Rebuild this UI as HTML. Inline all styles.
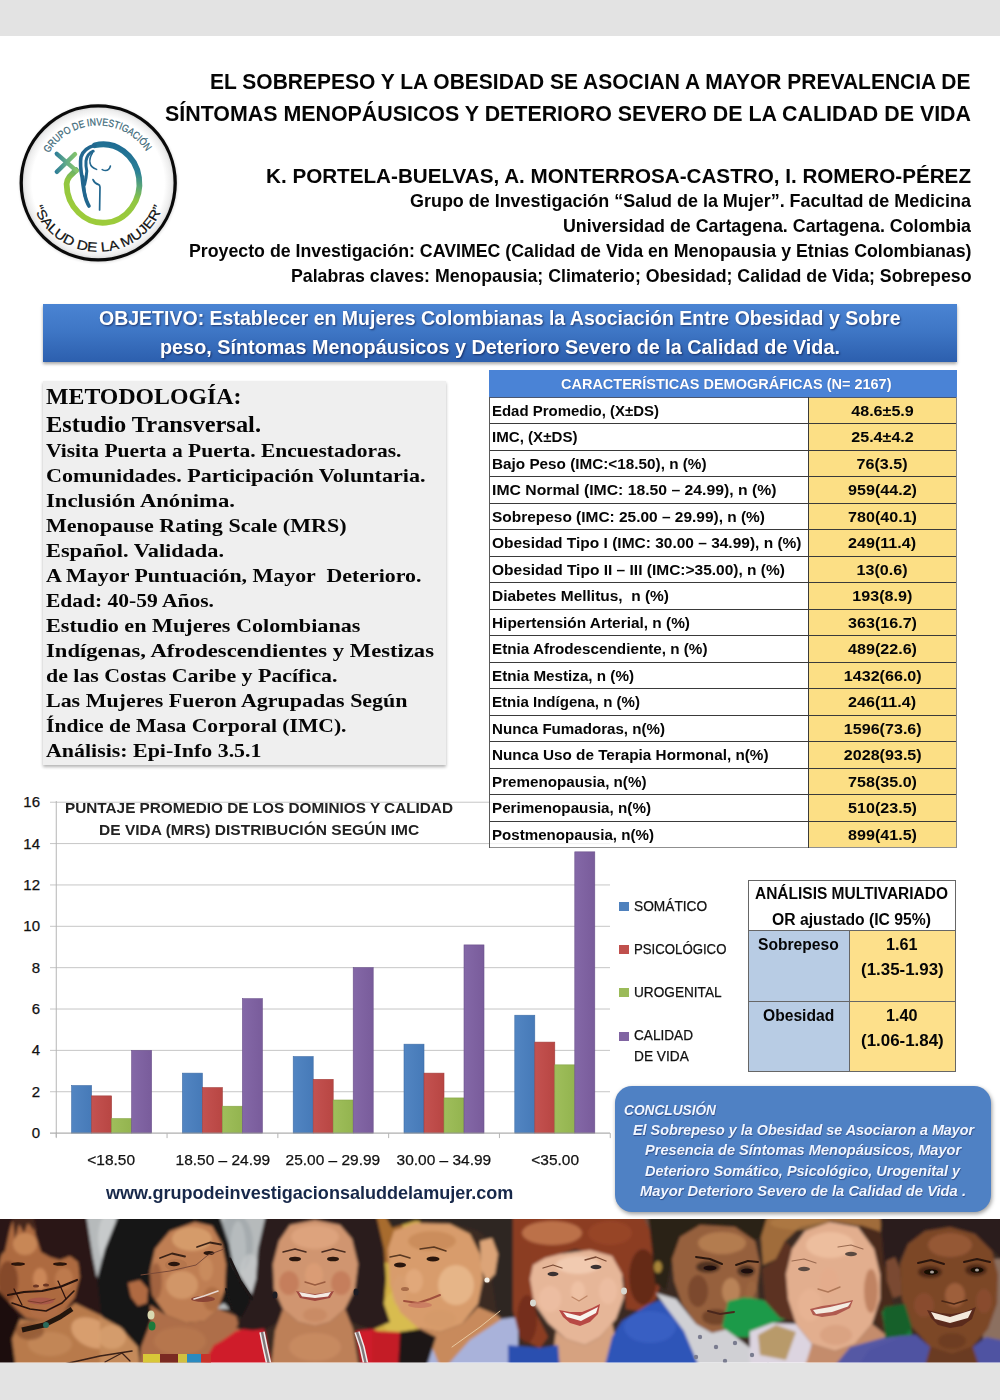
<!DOCTYPE html>
<html lang="es"><head><meta charset="utf-8"><title>Poster</title>
<style>
html,body{margin:0;padding:0;}
body{width:1000px;height:1400px;position:relative;overflow:hidden;background:#e3e3e3;font-family:"Liberation Sans",sans-serif;}
.abs{position:absolute;}
.t{position:absolute;white-space:pre;margin:0;padding:0;}
#paper{position:absolute;left:0;top:36px;width:1000px;height:1327px;background:#fff;}
</style></head><body>
<div id="paper"></div>

<div class="abs" style="left:42.5px;top:303.5px;width:914.5px;height:58px;background:linear-gradient(#4a84d3,#3f77c6 45%,#2c5fae);box-shadow:0 2px 3px rgba(0,0,0,.35);"></div>
<div class="abs" style="left:42.5px;top:381px;width:403.5px;height:384px;background:#efefef;box-shadow:0 2px 3px rgba(0,0,0,.3);"></div>
<svg class="abs" style="left:10px;top:95px" width="180" height="180" viewBox="10 95 180 180">
<defs>
<radialGradient id="lgbg" cx="98.2" cy="182.9" r="77" gradientUnits="userSpaceOnUse">
<stop offset="0" stop-color="#fff"/><stop offset="0.86" stop-color="#fff"/><stop offset="0.95" stop-color="#ededed"/><stop offset="1" stop-color="#cfcfcf"/>
</radialGradient>
<linearGradient id="lgring" x1="114" y1="141" x2="92" y2="212" gradientUnits="userSpaceOnUse">
<stop offset="0" stop-color="#1d6a93"/><stop offset="0.3" stop-color="#2b8096"/><stop offset="0.5" stop-color="#5faa74"/><stop offset="0.68" stop-color="#90c642"/><stop offset="1" stop-color="#9ccb3b"/>
</linearGradient>
<linearGradient id="lgx" x1="55" y1="0" x2="78" y2="0" gradientUnits="userSpaceOnUse">
<stop offset="0" stop-color="#2a7a98"/><stop offset="0.45" stop-color="#5fa98a"/><stop offset="1" stop-color="#8bc966"/>
</linearGradient>
<path id="arcTop" d="M 48.9 153.3 A 57.5 57.5 0 0 1 146.7 152.1" fill="none"/>
<path id="arcBot" d="M 33.8 207.6 A 69 69 0 0 0 163 206.5" fill="none"/>
<filter id="lgblur" x="-10%" y="-10%" width="120%" height="120%"><feGaussianBlur stdDeviation="1.6"/></filter>
</defs>
<circle cx="98.6" cy="183.6" r="78.6" fill="#000" opacity="0.16" filter="url(#lgblur)"/>
<circle cx="98.2" cy="182.9" r="77" fill="url(#lgbg)" stroke="#0a0a0a" stroke-width="3.3"/>
<!-- female symbol ring -->
<path d="M 76 170.2 L 69.6 176.5 Q 66.8 180 66.6 184 A 36.4 39.2 0 1 0 95 145.3" fill="none" stroke="url(#lgring)" stroke-width="5.8" stroke-linecap="round" stroke-linejoin="round"/>
<!-- cross -->
<path d="M 56.8 153.8 L 76.6 170.8" stroke="url(#lgx)" stroke-width="4.4" stroke-linecap="round" fill="none"/>
<path d="M 75 154.2 L 56.8 171.8" stroke="url(#lgx)" stroke-width="4.4" stroke-linecap="round" fill="none"/>
<!-- woman silhouette -->
<g fill="none" stroke="#22678f" stroke-linecap="round" stroke-linejoin="round">
<path d="M 95 145.3 Q 84 148 81 157 Q 79.6 165 82.2 178 Q 83.6 192 86.2 200 Q 88 204.5 89 206" stroke-width="3.6"/>
<path d="M 89 206 Q 86.5 201 85.2 193 Q 84 184 83.6 176" stroke-width="1.6"/>
<path d="M 93.2 151.2 Q 87.2 153.6 86 161 Q 85.6 166 86.8 171 Q 86.4 178 84.6 184.5" stroke-width="3"/>
<path d="M 84.6 184.5 Q 83.6 190 84.2 196" stroke-width="1.4"/>
<path d="M 92.4 153 Q 89.2 158 90 163 Q 91 167.6 96.6 169.4" stroke-width="1.5"/>
<path d="M 102.2 169.6 Q 106 171.6 108.6 169.4 Q 110 168 110.4 166" stroke-width="1.6"/>
<path d="M 93 179.6 Q 94.6 183.4 98.6 184.6 Q 99.8 185 100 187 L 99.6 210" stroke-width="1.7"/>
</g>
<text font-family="'Liberation Sans',sans-serif" font-size="10.4" fill="#3b6878" stroke="#3b6878" stroke-width="0.25"><textPath href="#arcTop" textLength="116" lengthAdjust="spacingAndGlyphs">GRUPO DE INVESTIGACIÓN</textPath></text>
<text font-family="'Liberation Sans',sans-serif" font-size="13.2" fill="#111" stroke="#111" stroke-width="0.2"><textPath href="#arcBot" textLength="166" lengthAdjust="spacingAndGlyphs">“SALUD DE LA MUJER”</textPath></text>
</svg>

<svg class="abs" style="left:0;top:780px" width="640" height="380" viewBox="0 780 640 380">
<defs>
<linearGradient id="gb" x1="0" x2="1" y1="0" y2="0"><stop offset="0" stop-color="#5285c2"/><stop offset="1" stop-color="#467ab8"/></linearGradient>
<linearGradient id="gr" x1="0" x2="1" y1="0" y2="0"><stop offset="0" stop-color="#c45250"/><stop offset="1" stop-color="#b84643"/></linearGradient>
<linearGradient id="gg" x1="0" x2="1" y1="0" y2="0"><stop offset="0" stop-color="#9fbe5b"/><stop offset="1" stop-color="#93b44f"/></linearGradient>
<linearGradient id="gp" x1="0" x2="1" y1="0" y2="0"><stop offset="0" stop-color="#8468a7"/><stop offset="1" stop-color="#795c9b"/></linearGradient>
</defs>
<line x1="50" x2="610" y1="1091.74" y2="1091.74" stroke="#c6c6c6" stroke-width="1"/>
<line x1="50" x2="610" y1="1050.38" y2="1050.38" stroke="#c6c6c6" stroke-width="1"/>
<line x1="50" x2="610" y1="1009.02" y2="1009.02" stroke="#c6c6c6" stroke-width="1"/>
<line x1="50" x2="610" y1="967.66" y2="967.66" stroke="#c6c6c6" stroke-width="1"/>
<line x1="50" x2="610" y1="926.30" y2="926.30" stroke="#c6c6c6" stroke-width="1"/>
<line x1="50" x2="610" y1="884.94" y2="884.94" stroke="#c6c6c6" stroke-width="1"/>
<line x1="50" x2="610" y1="843.58" y2="843.58" stroke="#c6c6c6" stroke-width="1"/>
<line x1="50" x2="610" y1="802.22" y2="802.22" stroke="#c6c6c6" stroke-width="1"/>
<line x1="56.25" x2="56.25" y1="801" y2="1137" stroke="#b5b5b5" stroke-width="1"/>
<rect x="71.60" y="1085.54" width="20" height="47.56" fill="url(#gb)" stroke="#3f6da6" stroke-width="0.6"/>
<rect x="91.60" y="1095.88" width="20" height="37.22" fill="url(#gr)" stroke="#a33f3c" stroke-width="0.6"/>
<rect x="111.60" y="1118.62" width="20" height="14.48" fill="url(#gg)" stroke="#84a445" stroke-width="0.6"/>
<rect x="131.60" y="1050.38" width="20" height="82.72" fill="url(#gp)" stroke="#6a508a" stroke-width="0.6"/>
<rect x="182.40" y="1073.13" width="20" height="59.97" fill="url(#gb)" stroke="#3f6da6" stroke-width="0.6"/>
<rect x="202.40" y="1087.60" width="20" height="45.50" fill="url(#gr)" stroke="#a33f3c" stroke-width="0.6"/>
<rect x="222.40" y="1106.22" width="20" height="26.88" fill="url(#gg)" stroke="#84a445" stroke-width="0.6"/>
<rect x="242.40" y="998.68" width="20" height="134.42" fill="url(#gp)" stroke="#6a508a" stroke-width="0.6"/>
<rect x="293.20" y="1056.58" width="20" height="76.52" fill="url(#gb)" stroke="#3f6da6" stroke-width="0.6"/>
<rect x="313.20" y="1079.33" width="20" height="53.77" fill="url(#gr)" stroke="#a33f3c" stroke-width="0.6"/>
<rect x="333.20" y="1100.01" width="20" height="33.09" fill="url(#gg)" stroke="#84a445" stroke-width="0.6"/>
<rect x="353.20" y="967.66" width="20" height="165.44" fill="url(#gp)" stroke="#6a508a" stroke-width="0.6"/>
<rect x="404.00" y="1044.18" width="20" height="88.92" fill="url(#gb)" stroke="#3f6da6" stroke-width="0.6"/>
<rect x="424.00" y="1073.13" width="20" height="59.97" fill="url(#gr)" stroke="#a33f3c" stroke-width="0.6"/>
<rect x="444.00" y="1097.94" width="20" height="35.16" fill="url(#gg)" stroke="#84a445" stroke-width="0.6"/>
<rect x="464.00" y="944.91" width="20" height="188.19" fill="url(#gp)" stroke="#6a508a" stroke-width="0.6"/>
<rect x="514.80" y="1015.22" width="20" height="117.88" fill="url(#gb)" stroke="#3f6da6" stroke-width="0.6"/>
<rect x="534.80" y="1042.11" width="20" height="90.99" fill="url(#gr)" stroke="#a33f3c" stroke-width="0.6"/>
<rect x="554.80" y="1064.86" width="20" height="68.24" fill="url(#gg)" stroke="#84a445" stroke-width="0.6"/>
<rect x="574.80" y="851.85" width="20" height="281.25" fill="url(#gp)" stroke="#6a508a" stroke-width="0.6"/>
<line x1="50" x2="610" y1="1133.10" y2="1133.10" stroke="#9a9a9a" stroke-width="1"/>
<line x1="56.25" x2="56.25" y1="1133.10" y2="1138.10" stroke="#b5b5b5" stroke-width="1"/>
<line x1="167.05" x2="167.05" y1="1133.10" y2="1138.10" stroke="#b5b5b5" stroke-width="1"/>
<line x1="277.85" x2="277.85" y1="1133.10" y2="1138.10" stroke="#b5b5b5" stroke-width="1"/>
<line x1="388.65" x2="388.65" y1="1133.10" y2="1138.10" stroke="#b5b5b5" stroke-width="1"/>
<line x1="499.45" x2="499.45" y1="1133.10" y2="1138.10" stroke="#b5b5b5" stroke-width="1"/>
<line x1="610.25" x2="610.25" y1="1133.10" y2="1138.10" stroke="#b5b5b5" stroke-width="1"/>
</svg>
<div class="abs" style="left:489px;top:370px;width:468px;height:27px;background:#4a83d6;"></div>
<div class="abs" style="left:489px;top:397px;width:319px;height:451px;background:rgba(255,255,255,.75);"></div>
<div class="abs" style="left:808px;top:397px;width:149px;height:451px;background:#fcdf85;"></div>
<div class="abs" style="left:489px;top:396.50px;width:468px;height:1px;background:#4a5670;"></div>
<div class="abs" style="left:489px;top:423.00px;width:468px;height:1px;background:#3a3a3a;"></div>
<div class="abs" style="left:489px;top:449.50px;width:468px;height:1px;background:#3a3a3a;"></div>
<div class="abs" style="left:489px;top:476.00px;width:468px;height:1px;background:#3a3a3a;"></div>
<div class="abs" style="left:489px;top:502.50px;width:468px;height:1px;background:#3a3a3a;"></div>
<div class="abs" style="left:489px;top:529.00px;width:468px;height:1px;background:#3a3a3a;"></div>
<div class="abs" style="left:489px;top:555.50px;width:468px;height:1px;background:#3a3a3a;"></div>
<div class="abs" style="left:489px;top:582.00px;width:468px;height:1px;background:#3a3a3a;"></div>
<div class="abs" style="left:489px;top:608.50px;width:468px;height:1px;background:#3a3a3a;"></div>
<div class="abs" style="left:489px;top:635.00px;width:468px;height:1px;background:#3a3a3a;"></div>
<div class="abs" style="left:489px;top:661.50px;width:468px;height:1px;background:#3a3a3a;"></div>
<div class="abs" style="left:489px;top:688.00px;width:468px;height:1px;background:#3a3a3a;"></div>
<div class="abs" style="left:489px;top:714.50px;width:468px;height:1px;background:#3a3a3a;"></div>
<div class="abs" style="left:489px;top:741.00px;width:468px;height:1px;background:#3a3a3a;"></div>
<div class="abs" style="left:489px;top:767.50px;width:468px;height:1px;background:#3a3a3a;"></div>
<div class="abs" style="left:489px;top:794.00px;width:468px;height:1px;background:#3a3a3a;"></div>
<div class="abs" style="left:489px;top:820.50px;width:468px;height:1px;background:#3a3a3a;"></div>
<div class="abs" style="left:489px;top:847.00px;width:468px;height:1px;background:#8f8f8f;"></div>
<div class="abs" style="left:488.5px;top:397px;width:1px;height:451px;background:#5a5a5a;"></div>
<div class="abs" style="left:807.5px;top:397px;width:1px;height:451px;background:#3a3a3a;"></div>
<div class="abs" style="left:956.0px;top:397px;width:1px;height:451px;background:#8a8a8a;"></div>
<div class="abs" style="left:619.2px;top:902.0px;width:10px;height:9px;background:#4f81bd;"></div>
<div class="abs" style="left:619.2px;top:945.1px;width:10px;height:9px;background:#c0504d;"></div>
<div class="abs" style="left:619.2px;top:988.3px;width:10px;height:9px;background:#9bbb59;"></div>
<div class="abs" style="left:619.2px;top:1031.5px;width:10px;height:9px;background:#8064a2;"></div>
<div class="abs" style="left:748px;top:880px;width:207.5px;height:191.25px;background:#fff;"></div>
<div class="abs" style="left:748px;top:930.75px;width:101.5px;height:140.5px;background:#b8cce4;"></div>
<div class="abs" style="left:849.5px;top:930.75px;width:106px;height:140.5px;background:#fde08b;"></div>
<div class="abs" style="left:747.5px;top:879.50px;width:208.5px;height:1px;background:#666;"></div>
<div class="abs" style="left:747.5px;top:930.25px;width:208.5px;height:1px;background:#666;"></div>
<div class="abs" style="left:747.5px;top:1000.75px;width:208.5px;height:1px;background:#666;"></div>
<div class="abs" style="left:747.5px;top:1070.75px;width:208.5px;height:1px;background:#666;"></div>
<div class="abs" style="left:747.50px;top:880.00px;width:1px;height:191.25px;background:#666;"></div>
<div class="abs" style="left:955.00px;top:880.00px;width:1px;height:191.25px;background:#666;"></div>
<div class="abs" style="left:849.00px;top:930.75px;width:1px;height:140.50px;background:#666;"></div>
<div class="abs" style="left:615px;top:1086px;width:376px;height:126px;border-radius:17px;background:#4f81c4;box-shadow:1px 2px 4px rgba(0,0,0,.4);"></div>
<div class="t" style="left:210.00px;top:68.68px;font:normal bold 21.2px/25.44px 'Liberation Sans',sans-serif;color:#050505;transform:scaleX(0.9913);transform-origin:left center;">EL SOBREPESO Y LA OBESIDAD SE ASOCIAN A MAYOR PREVALENCIA DE</div>
<div class="t" style="left:165.00px;top:100.68px;font:normal bold 21.2px/25.44px 'Liberation Sans',sans-serif;color:#050505;transform:scaleX(1.0093);transform-origin:left center;">SÍNTOMAS MENOPÁUSICOS Y DETERIORO SEVERO DE LA CALIDAD DE VIDA</div>
<div class="t" style="left:266.00px;top:162.62px;font:normal bold 21px/25.2px 'Liberation Sans',sans-serif;color:#050505;transform:scaleX(0.9831);transform-origin:left center;">K. PORTELA-BUELVAS, A. MONTERROSA-CASTRO, I. ROMERO-PÉREZ</div>
<div class="t" style="left:410.00px;top:190.56px;font:normal bold 17.9px/21.48px 'Liberation Sans',sans-serif;color:#050505;transform:scaleX(1.0023);transform-origin:left center;">Grupo de Investigación “Salud de la Mujer”. Facultad de Medicina</div>
<div class="t" style="left:563.00px;top:215.56px;font:normal bold 17.9px/21.48px 'Liberation Sans',sans-serif;color:#050505;transform:scaleX(0.9961);transform-origin:left center;">Universidad de Cartagena. Cartagena. Colombia</div>
<div class="t" style="left:188.50px;top:240.56px;font:normal bold 17.9px/21.48px 'Liberation Sans',sans-serif;color:#050505;transform:scaleX(0.9922);transform-origin:left center;">Proyecto de Investigación: CAVIMEC (Calidad de Vida en Menopausia y Etnias Colombianas)</div>
<div class="t" style="left:290.50px;top:265.56px;font:normal bold 17.9px/21.48px 'Liberation Sans',sans-serif;color:#050505;transform:scaleX(0.9910);transform-origin:left center;">Palabras claves: Menopausia; Climaterio; Obesidad; Calidad de Vida; Sobrepeso</div>
<div class="t" style="left:99.00px;top:306.94px;font:normal bold 19.5px/23.4px 'Liberation Sans',sans-serif;color:#fff;transform:scaleX(1.0004);transform-origin:left center;text-shadow:1px 1px 2px rgba(0,0,40,.55);">OBJETIVO: Establecer en Mujeres Colombianas la Asociación Entre Obesidad y Sobre</div>
<div class="t" style="left:159.60px;top:335.54px;font:normal bold 19.5px/23.4px 'Liberation Sans',sans-serif;color:#fff;transform:scaleX(1.0158);transform-origin:left center;text-shadow:1px 1px 2px rgba(0,0,40,.55);">peso, Síntomas Menopáusicos y Deterioro Severo de la Calidad de Vida.</div>
<div class="t" style="left:45.50px;top:383.15px;font:normal bold 23.2px/27.84px 'Liberation Serif',serif;color:#050505;transform:scaleX(1.0276);transform-origin:left center;">METODOLOGÍA:</div>
<div class="t" style="left:45.50px;top:410.65px;font:normal bold 23.2px/27.84px 'Liberation Serif',serif;color:#050505;transform:scaleX(1.0539);transform-origin:left center;">Estudio Transversal.</div>
<div class="t" style="left:45.50px;top:439.02px;font:normal bold 19.5px/23.4px 'Liberation Serif',serif;color:#050505;transform:scaleX(1.1038);transform-origin:left center;">Visita Puerta a Puerta. Encuestadoras.</div>
<div class="t" style="left:45.50px;top:464.02px;font:normal bold 19.5px/23.4px 'Liberation Serif',serif;color:#050505;transform:scaleX(1.1335);transform-origin:left center;">Comunidades. Participación Voluntaria.</div>
<div class="t" style="left:45.50px;top:489.02px;font:normal bold 19.5px/23.4px 'Liberation Serif',serif;color:#050505;transform:scaleX(1.1626);transform-origin:left center;">Inclusión Anónima.</div>
<div class="t" style="left:45.50px;top:514.02px;font:normal bold 19.5px/23.4px 'Liberation Serif',serif;color:#050505;transform:scaleX(1.1299);transform-origin:left center;">Menopause Rating Scale (MRS)</div>
<div class="t" style="left:45.50px;top:539.02px;font:normal bold 19.5px/23.4px 'Liberation Serif',serif;color:#050505;transform:scaleX(1.1443);transform-origin:left center;">Español. Validada.</div>
<div class="t" style="left:45.50px;top:564.02px;font:normal bold 19.5px/23.4px 'Liberation Serif',serif;color:#050505;transform:scaleX(1.1237);transform-origin:left center;">A Mayor Puntuación, Mayor  Deterioro.</div>
<div class="t" style="left:45.50px;top:589.02px;font:normal bold 19.5px/23.4px 'Liberation Serif',serif;color:#050505;transform:scaleX(1.1034);transform-origin:left center;">Edad: 40-59 Años.</div>
<div class="t" style="left:45.50px;top:614.02px;font:normal bold 19.5px/23.4px 'Liberation Serif',serif;color:#050505;transform:scaleX(1.1376);transform-origin:left center;">Estudio en Mujeres Colombianas</div>
<div class="t" style="left:45.50px;top:639.02px;font:normal bold 19.5px/23.4px 'Liberation Serif',serif;color:#050505;transform:scaleX(1.1603);transform-origin:left center;">Indígenas, Afrodescendientes y Mestizas</div>
<div class="t" style="left:45.50px;top:664.02px;font:normal bold 19.5px/23.4px 'Liberation Serif',serif;color:#050505;transform:scaleX(1.1213);transform-origin:left center;">de las Costas Caribe y Pacífica.</div>
<div class="t" style="left:45.50px;top:689.02px;font:normal bold 19.5px/23.4px 'Liberation Serif',serif;color:#050505;transform:scaleX(1.1259);transform-origin:left center;">Las Mujeres Fueron Agrupadas Según</div>
<div class="t" style="left:45.50px;top:714.02px;font:normal bold 19.5px/23.4px 'Liberation Serif',serif;color:#050505;transform:scaleX(1.1075);transform-origin:left center;">Índice de Masa Corporal (IMC).</div>
<div class="t" style="left:45.50px;top:739.02px;font:normal bold 19.5px/23.4px 'Liberation Serif',serif;color:#050505;transform:scaleX(1.1236);transform-origin:left center;">Análisis: Epi-Info 3.5.1</div>
<div class="t" style="left:560.50px;top:375.05px;font:normal bold 15px/18.0px 'Liberation Sans',sans-serif;color:#fff;transform:scaleX(0.9660);transform-origin:left center;text-shadow:0 0 1px rgba(0,0,60,.4);">CARACTERÍSTICAS DEMOGRÁFICAS (N= 2167)</div>
<div class="t" style="left:492.00px;top:401.71px;font:normal bold 15.2px/18.24px 'Liberation Sans',sans-serif;color:#050505;transform:scaleX(0.9852);transform-origin:left center;">Edad Promedio, (X±DS)</div>
<div class="t" style="left:852.99px;top:401.71px;font:normal bold 15.2px/18.24px 'Liberation Sans',sans-serif;color:#050505;transform:scaleX(1.0600);transform-origin:center center;">48.6±5.9</div>
<div class="t" style="left:492.00px;top:428.21px;font:normal bold 15.2px/18.24px 'Liberation Sans',sans-serif;color:#050505;transform:scaleX(0.9945);transform-origin:left center;">IMC, (X±DS)</div>
<div class="t" style="left:852.99px;top:428.21px;font:normal bold 15.2px/18.24px 'Liberation Sans',sans-serif;color:#050505;transform:scaleX(1.0600);transform-origin:center center;">25.4±4.2</div>
<div class="t" style="left:492.00px;top:454.71px;font:normal bold 15.2px/18.24px 'Liberation Sans',sans-serif;color:#050505;transform:scaleX(1.0066);transform-origin:left center;">Bajo Peso (IMC:&lt;18.50), n (%)</div>
<div class="t" style="left:858.44px;top:454.71px;font:normal bold 15.2px/18.24px 'Liberation Sans',sans-serif;color:#050505;transform:scaleX(1.0600);transform-origin:center center;">76(3.5)</div>
<div class="t" style="left:492.00px;top:481.21px;font:normal bold 15.2px/18.24px 'Liberation Sans',sans-serif;color:#050505;transform:scaleX(1.0372);transform-origin:left center;">IMC Normal (IMC: 18.50 – 24.99), n (%)</div>
<div class="t" style="left:849.99px;top:481.21px;font:normal bold 15.2px/18.24px 'Liberation Sans',sans-serif;color:#050505;transform:scaleX(1.0600);transform-origin:center center;">959(44.2)</div>
<div class="t" style="left:492.00px;top:507.71px;font:normal bold 15.2px/18.24px 'Liberation Sans',sans-serif;color:#050505;transform:scaleX(1.0171);transform-origin:left center;">Sobrepeso (IMC: 25.00 – 29.99), n (%)</div>
<div class="t" style="left:849.99px;top:507.71px;font:normal bold 15.2px/18.24px 'Liberation Sans',sans-serif;color:#050505;transform:scaleX(1.0600);transform-origin:center center;">780(40.1)</div>
<div class="t" style="left:492.00px;top:534.21px;font:normal bold 15.2px/18.24px 'Liberation Sans',sans-serif;color:#050505;transform:scaleX(1.0196);transform-origin:left center;">Obesidad Tipo I (IMC: 30.00 – 34.99), n (%)</div>
<div class="t" style="left:850.41px;top:534.21px;font:normal bold 15.2px/18.24px 'Liberation Sans',sans-serif;color:#050505;transform:scaleX(1.0600);transform-origin:center center;">249(11.4)</div>
<div class="t" style="left:492.00px;top:560.71px;font:normal bold 15.2px/18.24px 'Liberation Sans',sans-serif;color:#050505;transform:scaleX(1.0206);transform-origin:left center;">Obesidad Tipo II – III (IMC:&gt;35.00), n (%)</div>
<div class="t" style="left:858.44px;top:560.71px;font:normal bold 15.2px/18.24px 'Liberation Sans',sans-serif;color:#050505;transform:scaleX(1.0600);transform-origin:center center;">13(0.6)</div>
<div class="t" style="left:492.00px;top:587.21px;font:normal bold 15.2px/18.24px 'Liberation Sans',sans-serif;color:#050505;transform:scaleX(1.0182);transform-origin:left center;">Diabetes Mellitus,  n (%)</div>
<div class="t" style="left:854.21px;top:587.21px;font:normal bold 15.2px/18.24px 'Liberation Sans',sans-serif;color:#050505;transform:scaleX(1.0600);transform-origin:center center;">193(8.9)</div>
<div class="t" style="left:492.00px;top:613.71px;font:normal bold 15.2px/18.24px 'Liberation Sans',sans-serif;color:#050505;transform:scaleX(1.0142);transform-origin:left center;">Hipertensión Arterial, n (%)</div>
<div class="t" style="left:849.99px;top:613.71px;font:normal bold 15.2px/18.24px 'Liberation Sans',sans-serif;color:#050505;transform:scaleX(1.0600);transform-origin:center center;">363(16.7)</div>
<div class="t" style="left:492.00px;top:640.21px;font:normal bold 15.2px/18.24px 'Liberation Sans',sans-serif;color:#050505;transform:scaleX(1.0041);transform-origin:left center;">Etnia Afrodescendiente, n (%)</div>
<div class="t" style="left:849.99px;top:640.21px;font:normal bold 15.2px/18.24px 'Liberation Sans',sans-serif;color:#050505;transform:scaleX(1.0600);transform-origin:center center;">489(22.6)</div>
<div class="t" style="left:492.00px;top:666.71px;font:normal bold 15.2px/18.24px 'Liberation Sans',sans-serif;color:#050505;transform:scaleX(1.0015);transform-origin:left center;">Etnia Mestiza, n (%)</div>
<div class="t" style="left:845.77px;top:666.71px;font:normal bold 15.2px/18.24px 'Liberation Sans',sans-serif;color:#050505;transform:scaleX(1.0600);transform-origin:center center;">1432(66.0)</div>
<div class="t" style="left:492.00px;top:693.21px;font:normal bold 15.2px/18.24px 'Liberation Sans',sans-serif;color:#050505;transform:scaleX(0.9909);transform-origin:left center;">Etnia Indígena, n (%)</div>
<div class="t" style="left:850.41px;top:693.21px;font:normal bold 15.2px/18.24px 'Liberation Sans',sans-serif;color:#050505;transform:scaleX(1.0600);transform-origin:center center;">246(11.4)</div>
<div class="t" style="left:492.00px;top:719.71px;font:normal bold 15.2px/18.24px 'Liberation Sans',sans-serif;color:#050505;transform:scaleX(0.9951);transform-origin:left center;">Nunca Fumadoras, n(%)</div>
<div class="t" style="left:845.77px;top:719.71px;font:normal bold 15.2px/18.24px 'Liberation Sans',sans-serif;color:#050505;transform:scaleX(1.0600);transform-origin:center center;">1596(73.6)</div>
<div class="t" style="left:492.00px;top:746.21px;font:normal bold 15.2px/18.24px 'Liberation Sans',sans-serif;color:#050505;transform:scaleX(1.0061);transform-origin:left center;">Nunca Uso de Terapia Hormonal, n(%)</div>
<div class="t" style="left:845.77px;top:746.21px;font:normal bold 15.2px/18.24px 'Liberation Sans',sans-serif;color:#050505;transform:scaleX(1.0600);transform-origin:center center;">2028(93.5)</div>
<div class="t" style="left:492.00px;top:772.71px;font:normal bold 15.2px/18.24px 'Liberation Sans',sans-serif;color:#050505;transform:scaleX(1.0003);transform-origin:left center;">Premenopausia, n(%)</div>
<div class="t" style="left:849.99px;top:772.71px;font:normal bold 15.2px/18.24px 'Liberation Sans',sans-serif;color:#050505;transform:scaleX(1.0600);transform-origin:center center;">758(35.0)</div>
<div class="t" style="left:492.00px;top:799.21px;font:normal bold 15.2px/18.24px 'Liberation Sans',sans-serif;color:#050505;transform:scaleX(1.0021);transform-origin:left center;">Perimenopausia, n(%)</div>
<div class="t" style="left:849.99px;top:799.21px;font:normal bold 15.2px/18.24px 'Liberation Sans',sans-serif;color:#050505;transform:scaleX(1.0600);transform-origin:center center;">510(23.5)</div>
<div class="t" style="left:492.00px;top:825.71px;font:normal bold 15.2px/18.24px 'Liberation Sans',sans-serif;color:#050505;transform:scaleX(0.9946);transform-origin:left center;">Postmenopausia, n(%)</div>
<div class="t" style="left:849.99px;top:825.71px;font:normal bold 15.2px/18.24px 'Liberation Sans',sans-serif;color:#050505;transform:scaleX(1.0600);transform-origin:center center;">899(41.5)</div>
<div class="t" style="left:64.50px;top:799.27px;font:normal bold 15.3px/18.36px 'Liberation Sans',sans-serif;color:#222;transform:scaleX(1.0011);transform-origin:left center;">PUNTAJE PROMEDIO DE LOS DOMINIOS Y CALIDAD</div>
<div class="t" style="left:98.75px;top:821.02px;font:normal bold 15.3px/18.36px 'Liberation Sans',sans-serif;color:#222;transform:scaleX(1.0148);transform-origin:left center;">DE VIDA (MRS) DISTRIBUCIÓN SEGÚN IMC</div>
<div class="t" style="left:31.66px;top:1124.20px;font:normal normal 15px/18.0px 'Liberation Sans',sans-serif;color:#111;transform:scaleX(1.0000);transform-origin:right center;-webkit-text-stroke:0.25px #111;">0</div>
<div class="t" style="left:31.66px;top:1082.84px;font:normal normal 15px/18.0px 'Liberation Sans',sans-serif;color:#111;transform:scaleX(1.0000);transform-origin:right center;-webkit-text-stroke:0.25px #111;">2</div>
<div class="t" style="left:31.66px;top:1041.48px;font:normal normal 15px/18.0px 'Liberation Sans',sans-serif;color:#111;transform:scaleX(1.0000);transform-origin:right center;-webkit-text-stroke:0.25px #111;">4</div>
<div class="t" style="left:31.66px;top:1000.12px;font:normal normal 15px/18.0px 'Liberation Sans',sans-serif;color:#111;transform:scaleX(1.0000);transform-origin:right center;-webkit-text-stroke:0.25px #111;">6</div>
<div class="t" style="left:31.66px;top:958.76px;font:normal normal 15px/18.0px 'Liberation Sans',sans-serif;color:#111;transform:scaleX(1.0000);transform-origin:right center;-webkit-text-stroke:0.25px #111;">8</div>
<div class="t" style="left:23.31px;top:917.40px;font:normal normal 15px/18.0px 'Liberation Sans',sans-serif;color:#111;transform:scaleX(1.0000);transform-origin:right center;-webkit-text-stroke:0.25px #111;">10</div>
<div class="t" style="left:23.31px;top:876.04px;font:normal normal 15px/18.0px 'Liberation Sans',sans-serif;color:#111;transform:scaleX(1.0000);transform-origin:right center;-webkit-text-stroke:0.25px #111;">12</div>
<div class="t" style="left:23.31px;top:834.68px;font:normal normal 15px/18.0px 'Liberation Sans',sans-serif;color:#111;transform:scaleX(1.0000);transform-origin:right center;-webkit-text-stroke:0.25px #111;">14</div>
<div class="t" style="left:23.31px;top:793.32px;font:normal normal 15px/18.0px 'Liberation Sans',sans-serif;color:#111;transform:scaleX(1.0000);transform-origin:right center;-webkit-text-stroke:0.25px #111;">16</div>
<div class="t" style="left:88.45px;top:1150.80px;font:normal normal 15px/18.0px 'Liberation Sans',sans-serif;color:#111;transform:scaleX(1.0300);transform-origin:center center;-webkit-text-stroke:0.25px #111;">&lt;18.50</div>
<div class="t" style="left:176.52px;top:1150.80px;font:normal normal 15px/18.0px 'Liberation Sans',sans-serif;color:#111;transform:scaleX(1.0300);transform-origin:center center;-webkit-text-stroke:0.25px #111;">18.50 – 24.99</div>
<div class="t" style="left:287.32px;top:1150.80px;font:normal normal 15px/18.0px 'Liberation Sans',sans-serif;color:#111;transform:scaleX(1.0300);transform-origin:center center;-webkit-text-stroke:0.25px #111;">25.00 – 29.99</div>
<div class="t" style="left:398.12px;top:1150.80px;font:normal normal 15px/18.0px 'Liberation Sans',sans-serif;color:#111;transform:scaleX(1.0300);transform-origin:center center;-webkit-text-stroke:0.25px #111;">30.00 – 34.99</div>
<div class="t" style="left:531.65px;top:1150.80px;font:normal normal 15px/18.0px 'Liberation Sans',sans-serif;color:#111;transform:scaleX(1.0300);transform-origin:center center;-webkit-text-stroke:0.25px #111;">&lt;35.00</div>
<div class="t" style="left:634.00px;top:897.65px;font:normal normal 14px/16.8px 'Liberation Sans',sans-serif;color:#111;transform:scaleX(0.9803);transform-origin:left center;-webkit-text-stroke:0.25px #111;">SOMÁTICO</div>
<div class="t" style="left:634.00px;top:941.15px;font:normal normal 14px/16.8px 'Liberation Sans',sans-serif;color:#111;transform:scaleX(0.9426);transform-origin:left center;-webkit-text-stroke:0.25px #111;">PSICOLÓGICO</div>
<div class="t" style="left:634.00px;top:984.35px;font:normal normal 14px/16.8px 'Liberation Sans',sans-serif;color:#111;transform:scaleX(0.9735);transform-origin:left center;-webkit-text-stroke:0.25px #111;">UROGENITAL</div>
<div class="t" style="left:634.00px;top:1027.25px;font:normal normal 14px/16.8px 'Liberation Sans',sans-serif;color:#111;transform:scaleX(0.9722);transform-origin:left center;-webkit-text-stroke:0.25px #111;">CALIDAD</div>
<div class="t" style="left:634.00px;top:1047.55px;font:normal normal 14px/16.8px 'Liberation Sans',sans-serif;color:#111;transform:scaleX(0.9783);transform-origin:left center;-webkit-text-stroke:0.25px #111;">DE VIDA</div>
<div class="t" style="left:105.60px;top:1182.49px;font:normal bold 18.5px/22.2px 'Liberation Sans',sans-serif;color:#17284a;transform:scaleX(0.9753);transform-origin:left center;">www.grupodeinvestigacionsaluddelamujer.com</div>
<div class="t" style="left:755.00px;top:884.98px;font:normal bold 15.6px/18.72px 'Liberation Sans',sans-serif;color:#050505;transform:scaleX(0.9931);transform-origin:left center;">ANÁLISIS MULTIVARIADO</div>
<div class="t" style="left:772.00px;top:911.23px;font:normal bold 15.6px/18.72px 'Liberation Sans',sans-serif;color:#050505;transform:scaleX(1.0082);transform-origin:left center;">OR ajustado (IC 95%)</div>
<div class="t" style="left:758.00px;top:936.23px;font:normal bold 15.6px/18.72px 'Liberation Sans',sans-serif;color:#050505;transform:scaleX(1.0019);transform-origin:left center;">Sobrepeso</div>
<div class="t" style="left:886.00px;top:936.23px;font:normal bold 15.6px/18.72px 'Liberation Sans',sans-serif;color:#050505;transform:scaleX(1.0376);transform-origin:left center;">1.61</div>
<div class="t" style="left:861.00px;top:961.23px;font:normal bold 15.6px/18.72px 'Liberation Sans',sans-serif;color:#050505;transform:scaleX(1.0848);transform-origin:left center;">(1.35-1.93)</div>
<div class="t" style="left:762.50px;top:1006.98px;font:normal bold 15.6px/18.72px 'Liberation Sans',sans-serif;color:#050505;transform:scaleX(1.0026);transform-origin:left center;">Obesidad</div>
<div class="t" style="left:886.00px;top:1006.98px;font:normal bold 15.6px/18.72px 'Liberation Sans',sans-serif;color:#050505;transform:scaleX(1.0376);transform-origin:left center;">1.40</div>
<div class="t" style="left:861.00px;top:1031.98px;font:normal bold 15.6px/18.72px 'Liberation Sans',sans-serif;color:#050505;transform:scaleX(1.0848);transform-origin:left center;">(1.06-1.84)</div>
<div class="t" style="left:624.00px;top:1101.78px;font:italic bold 14.5px/17.4px 'Liberation Sans',sans-serif;color:#f1f6ff;transform:scaleX(0.9437);transform-origin:left center;text-shadow:0.5px 0.5px 1px rgba(0,0,50,.45);">CONCLUSIÓN</div>
<div class="t" style="left:632.80px;top:1121.78px;font:italic bold 14.5px/17.4px 'Liberation Sans',sans-serif;color:#f1f6ff;transform:scaleX(0.9908);transform-origin:left center;text-shadow:0.5px 0.5px 1px rgba(0,0,50,.45);">El Sobrepeso y la Obesidad se Asociaron a Mayor</div>
<div class="t" style="left:644.80px;top:1141.78px;font:italic bold 14.5px/17.4px 'Liberation Sans',sans-serif;color:#f1f6ff;transform:scaleX(1.0061);transform-origin:left center;text-shadow:0.5px 0.5px 1px rgba(0,0,50,.45);">Presencia de Síntomas Menopáusicos, Mayor</div>
<div class="t" style="left:644.80px;top:1162.58px;font:italic bold 14.5px/17.4px 'Liberation Sans',sans-serif;color:#f1f6ff;transform:scaleX(1.0005);transform-origin:left center;text-shadow:0.5px 0.5px 1px rgba(0,0,50,.45);">Deterioro Somático, Psicológico, Urogenital y</div>
<div class="t" style="left:640.00px;top:1182.58px;font:italic bold 14.5px/17.4px 'Liberation Sans',sans-serif;color:#f1f6ff;transform:scaleX(1.0182);transform-origin:left center;text-shadow:0.5px 0.5px 1px rgba(0,0,50,.45);">Mayor Deterioro Severo de la Calidad de Vida .</div>
<svg class="abs" style="left:0;top:1219px" width="1000" height="143.5" viewBox="0 0 1000 143.5">
<defs>
<filter id="pb2" x="-2%" y="-10%" width="104%" height="120%"><feGaussianBlur stdDeviation="1.7"/></filter>
<filter id="pb1" x="-2%" y="-10%" width="104%" height="120%"><feGaussianBlur stdDeviation="0.55"/></filter>
<clipPath id="pclip"><rect x="0" y="0" width="1000" height="143.5"/></clipPath>
</defs>
<g clip-path="url(#pclip)">
<g filter="url(#pb2)">
<rect x="-5" y="-5" width="1010" height="153" fill="#3a2a24"/>
<rect x="80" y="-5" width="215" height="95" fill="#b6babb"/>
<ellipse cx="235" cy="25" rx="18" ry="30" fill="#9ea5a8" opacity="0.7"/>
<ellipse cx="250" cy="55" rx="10" ry="20" fill="#c9cdcd" opacity="0.6"/>
<ellipse cx="108" cy="20" rx="10" ry="25" fill="#cfd1d2" opacity="0.7"/>
<ellipse cx="238" cy="30" rx="8" ry="28" fill="#c8cccc" opacity="0.5"/>
<polygon points="374,-5 420,-5 420,120 374,120" fill="#d2b044"/>
<ellipse cx="388" cy="18" rx="16" ry="26" fill="#a86c2e"/>
<ellipse cx="400" cy="95" rx="18" ry="25" fill="#d8bc50"/>
<rect x="628" y="-5" width="30" height="20" fill="#6a4a3a"/>
<rect x="983" y="40" width="22" height="85" fill="#8c7060"/>
<polygon points="-5,-5 86,-5 93,40 99,70 103,97 80,92 0,100 -5,100" fill="#2b1517"/>
<polygon points="0,40 4,28 9,12 14,-2 36,-2 42,26 50,33 60,36 70,33 78,40 80,58 75,78 63,94 46,103 26,99 8,82 -5,70" fill="#ad6a40"/>
<ellipse cx="25" cy="25" rx="12" ry="11" fill="#cc8c5c" opacity="0.85"/>
<ellipse cx="40" cy="60" rx="7" ry="11" fill="#d08c5e" opacity="0.85"/>
<ellipse cx="64" cy="60" rx="9" ry="11" fill="#c07c50" opacity="0.85"/>
<ellipse cx="8" cy="62" rx="10" ry="20" fill="#7e4428" opacity="0.85"/>
<ellipse cx="44" cy="92" rx="14" ry="7" fill="#b06e46" opacity="0.9"/>
<polygon points="34,-5 86,-5 85,36 78,43 70,37 60,41 50,38 41,33 35,14" fill="#2a1416"/>
<polygon points="12,-5 36,-5 34,12 28,4 24,14 19,5 15,20" fill="#2a1416" opacity="0.8"/>
<polygon points="-5,-5 13,-5 9,14 5,32 -5,42" fill="#2a1416"/>
<polygon points="78,40 85,20 93,40 99,70 103,97 86,92 74,82 80,58" fill="#2b1517"/>
<polygon points="18,100 46,103 63,94 75,84 102,97 135,120 135,150 12,150 10,120" fill="#b87a4c"/>
<ellipse cx="92" cy="114" rx="22" ry="14" fill="#dca272" opacity="0.9" transform="rotate(25 92 114)"/>
<ellipse cx="50" cy="125" rx="22" ry="12" fill="#c48a5a" opacity="0.8"/>
<polygon points="-5,68 8,82 20,100 12,120 16,150 -5,150" fill="#1e0e10"/>
<ellipse cx="30" cy="112" rx="14" ry="9" fill="#8a5230" opacity="0.7"/>
<polygon points="119,-5 219,-5 229,25 233,45 248,70 258,86 258,104 236,97 224,84 150,128 138,132 112,124 101,95 97,60 105,30" fill="#171414"/>
<polygon points="150,52 155,30 170,12 195,3 212,7 222,25 226,45 225,70 218,90 205,102 186,104 166,96 152,76" fill="#bf7e52"/>
<ellipse cx="192" cy="20" rx="20" ry="12" fill="#d8a070" opacity="0.85"/>
<ellipse cx="182" cy="66" rx="16" ry="14" fill="#d49a6c" opacity="0.85"/>
<ellipse cx="206" cy="50" rx="7" ry="12" fill="#cc8e60" opacity="0.8"/>
<ellipse cx="156" cy="62" rx="6" ry="18" fill="#96583a" opacity="0.7"/>
<ellipse cx="212" cy="80" rx="9" ry="12" fill="#a8683e" opacity="0.7"/>
<polygon points="128,64 140,61 148,70 147,84 138,87 131,78" fill="#b06a42"/>
<polygon points="150,86 166,96 186,104 205,102 218,90 236,97 240,112 216,126 210,150 140,150 141,128 151,102" fill="#ae6e48"/>
<ellipse cx="180" cy="122" rx="26" ry="14" fill="#b87850" opacity="0.8"/>
<polygon points="260,106 236,112 216,126 206,150 260,150" fill="#d4202c"/>
<polygon points="100,97 120,108 138,128 140,150 100,150" fill="#c48a5a"/>
<ellipse cx="112" cy="118" rx="14" ry="12" fill="#d8a070" opacity="0.8"/>
<polygon points="266,-5 376,-5 384,30 386,60 384,85 390,103 372,111 345,101 282,101 262,113 236,109 249,85 256,60 258,30" fill="#2a1a1c"/>
<polygon points="279,22 290,6 315,1 340,6 352,20 358,45 355,70 345,90 330,103 315,107 298,103 283,90 274,70 273,45" fill="#d09570"/>
<ellipse cx="315" cy="18" rx="24" ry="12" fill="#dea47e" opacity="0.9"/>
<ellipse cx="314" cy="56" rx="9" ry="12" fill="#da9c76" opacity="0.9"/>
<ellipse cx="289" cy="64" rx="10" ry="12" fill="#c27858" opacity="0.8"/>
<ellipse cx="341" cy="64" rx="10" ry="12" fill="#c27858" opacity="0.8"/>
<ellipse cx="315" cy="96" rx="12" ry="7" fill="#c88a64" opacity="0.9"/>
<polygon points="283,90 298,103 315,107 330,103 345,90 353,110 359,150 271,150 275,112" fill="#bd8058"/>
<ellipse cx="315" cy="128" rx="26" ry="14" fill="#c98c64" opacity="0.8"/>
<polygon points="200,150 214,126 240,113 264,110 272,150" fill="#cf1f2b"/>
<polygon points="356,112 372,110 396,118 420,122 420,150 362,150" fill="#cf1f2b"/>
<polygon points="384,-5 518,-5 518,101 497,96 492,62 495,25 478,12 450,4 415,2 392,9" fill="#2e2622"/>
<polygon points="388,30 394,12 415,4 450,5 470,15 480,35 483,60 478,85 462,105 440,113 418,109 400,93 390,66" fill="#d89c6c"/>
<ellipse cx="456" cy="66" rx="18" ry="20" fill="#e8b88c" opacity="0.9"/>
<ellipse cx="414" cy="62" rx="9" ry="12" fill="#e2aa7c" opacity="0.9"/>
<ellipse cx="432" cy="22" rx="24" ry="10" fill="#c88a58" opacity="0.8"/>
<ellipse cx="400" cy="72" rx="8" ry="16" fill="#d8a070" opacity="0.7"/>
<ellipse cx="440" cy="100" rx="16" ry="9" fill="#d49a6c" opacity="0.8"/>
<polygon points="480,22 492,19 498,35 495,55 487,63 481,50" fill="#dca478"/>
<polygon points="418,109 440,113 462,105 478,88 497,96 502,101 470,122 444,150 424,150 434,118" fill="#c88a5c"/>
<polygon points="444,150 470,121 502,100 518,98 518,150" fill="#a9b2da"/>
<polygon points="424,150 431,126 441,150" fill="#a9b2da"/>
<polygon points="399,113 420,110 436,118 426,150 396,150" fill="#1a1818"/>
<polygon points="372,112 400,113 398,150 372,150" fill="#c41a28"/>
<polygon points="513,-5 642,-5 656,25 663,55 656,80 640,92 626,90 624,60 612,38 575,30 545,40 532,58 534,90 548,118 540,129 520,119 513,92" fill="#8c3c24"/>
<ellipse cx="552" cy="14" rx="30" ry="12" fill="#c47a50" opacity="0.85"/>
<ellipse cx="610" cy="14" rx="22" ry="12" fill="#9a4628" opacity="0.8"/>
<ellipse cx="643" cy="58" rx="14" ry="28" fill="#5e2618" opacity="0.85"/>
<ellipse cx="527" cy="100" rx="10" ry="24" fill="#6e2c1c" opacity="0.8"/>
<ellipse cx="524" cy="50" rx="8" ry="26" fill="#8a3c24" opacity="0.7"/>
<polygon points="530,60 533,46 545,39 560,35 590,31 612,37 622,55 624,78 616,100 600,118 585,126 566,120 548,104 534,84" fill="#e6b698"/>
<ellipse cx="578" cy="46" rx="22" ry="9" fill="#f2ccb2" opacity="0.9"/>
<ellipse cx="550" cy="80" rx="11" ry="13" fill="#eebfa4" opacity="0.8"/>
<ellipse cx="608" cy="72" rx="9" ry="13" fill="#eebfa4" opacity="0.8"/>
<ellipse cx="578" cy="72" rx="7" ry="10" fill="#f0c4a8" opacity="0.8"/>
<polygon points="556,112 566,120 585,126 600,118 612,104 616,122 606,150 558,150 554,128" fill="#d6a280"/>
<polygon points="508,126 540,129 558,126 560,150 508,150" fill="#2c50b0"/>
<polygon points="604,150 612,118 622,102 648,86 660,81 676,96 690,120 704,150" fill="#2f55b8"/>
<ellipse cx="650" cy="108" rx="26" ry="16" fill="#3a62c8" opacity="0.7"/>
<polygon points="648,-5 770,-5 766,15 755,22 735,8 700,6 680,18 672,40 666,72 655,64 652,30" fill="#2a2018"/>
<polygon points="672,40 680,18 700,6 735,8 755,22 760,45 757,70 745,95 728,110 712,114 696,105 682,85 674,62" fill="#96603c"/>
<ellipse cx="722" cy="24" rx="24" ry="11" fill="#b88054" opacity="0.85"/>
<ellipse cx="731" cy="72" rx="9" ry="13" fill="#c08a5e" opacity="0.85"/>
<ellipse cx="698" cy="72" rx="10" ry="16" fill="#74442a" opacity="0.8"/>
<ellipse cx="708" cy="48" rx="12" ry="6" fill="#3e261a" opacity="0.8"/>
<ellipse cx="746" cy="52" rx="9" ry="6" fill="#3e261a" opacity="0.8"/>
<ellipse cx="716" cy="98" rx="14" ry="8" fill="#6a3e26" opacity="0.8"/>
<ellipse cx="752" cy="76" rx="6" ry="14" fill="#a06a44" opacity="0.6"/>
<polygon points="656,74 676,80 684,90 696,105 712,114 728,110 736,118 778,150 700,150 684,112 666,88" fill="#d0d0d4"/>
<polygon points="728,82 745,78 762,85 786,100 772,105 750,118 736,118 722,108" fill="#1f9a4a"/>
<ellipse cx="658" cy="48" rx="4" ry="6" fill="#c8a040" opacity="0.8"/>
<polygon points="750,112 772,104 796,105 812,125 806,150 750,150" fill="#dcd4e0"/>
<polygon points="758,116 776,106 796,113 786,141 760,136" fill="#b89a6a"/>
<polygon points="748,78 766,82 783,98 772,104 748,113" fill="#1f9a4a"/>
<polygon points="768,-5 882,-5 880,14 860,7 830,2 800,8 785,22 776,40 763,46 761,18" fill="#a06c3a"/>
<ellipse cx="800" cy="4" rx="30" ry="7" fill="#b07c46" opacity="0.7"/>
<polygon points="776,40 785,22 793,30 787,55 789,80 796,102 780,99 765,82 762,50" fill="#5c3020"/>
<polygon points="860,6 879,12 887,30 891,60 893,90 886,116 874,102 880,70 876,40" fill="#4a2a1c"/>
<polygon points="786,55 792,30 805,12 830,3 858,8 874,30 880,55 880,80 872,105 855,125 835,132 812,125 796,105 788,80" fill="#e2ae8e"/>
<ellipse cx="830" cy="26" rx="24" ry="13" fill="#eec0a0" opacity="0.9"/>
<ellipse cx="810" cy="86" rx="12" ry="16" fill="#e8b494" opacity="0.85"/>
<ellipse cx="829" cy="62" rx="9" ry="13" fill="#e4ac8c" opacity="0.85"/>
<ellipse cx="871" cy="72" rx="7" ry="22" fill="#b87858" opacity="0.8"/>
<ellipse cx="836" cy="116" rx="16" ry="10" fill="#d8a080" opacity="0.8"/>
<polygon points="812,125 835,132 855,125 872,105 886,116 882,150 804,150" fill="#c48c6c"/>
<polygon points="882,92 906,88 912,116 886,119" fill="#167a38"/>
<polygon points="832,150 850,128 886,118 916,116 922,150" fill="#5458a4"/>
<polygon points="880,-5 1005,-5 1005,42 990,30 975,15 950,8 925,12 908,25 900,40 896,62 884,46" fill="#2c1e1a"/>
<polygon points="886,42 895,38 900,50 902,76 893,79 887,62" fill="#7a4a30"/>
<polygon points="900,45 908,25 925,12 950,8 975,15 992,32 998,55 997,85 988,110 972,128 952,135 930,128 912,108 902,80" fill="#7c4628"/>
<ellipse cx="950" cy="26" rx="22" ry="12" fill="#9a5c38" opacity="0.85"/>
<ellipse cx="955" cy="76" rx="10" ry="12" fill="#a4643e" opacity="0.85"/>
<ellipse cx="924" cy="86" rx="10" ry="12" fill="#8c4e2e" opacity="0.8"/>
<ellipse cx="984" cy="82" rx="8" ry="12" fill="#8c4e2e" opacity="0.8"/>
<ellipse cx="930" cy="53" rx="12" ry="6" fill="#3e2012" opacity="0.8"/>
<ellipse cx="976" cy="51" rx="11" ry="6" fill="#3e2012" opacity="0.8"/>
<ellipse cx="952" cy="122" rx="14" ry="8" fill="#6a3a20" opacity="0.8"/>
<polygon points="884,88 905,85 912,108 905,116 885,119" fill="#14602c"/>
<polygon points="928,127 952,135 974,127 980,150 923,150" fill="#6a3a20"/>
<polygon points="856,150 870,130 900,118 916,116 930,128 924,150" fill="#5052a2"/>
<polygon points="973,128 986,118 1005,122 1005,150 980,150" fill="#5052a2"/>
</g>
<g filter="url(#pb1)">
<ellipse cx="18" cy="45" rx="7" ry="1.8" fill="#2a1208"/>
<ellipse cx="60" cy="45" rx="7" ry="1.8" fill="#2a1208"/>
<polyline points="8,76 24,73 42,72 60,68 77,61" fill="none" stroke="#28120c" stroke-width="2.2" stroke-linecap="round" stroke-linejoin="round"/>
<polyline points="12,84 30,90 46,92 62,84 74,72" fill="none" stroke="#28120c" stroke-width="1.6" stroke-linecap="round" stroke-linejoin="round"/>
<polyline points="14,70 22,86" fill="none" stroke="#28120c" stroke-width="1.2" stroke-linecap="round" stroke-linejoin="round"/>
<polyline points="58,62 66,80" fill="none" stroke="#28120c" stroke-width="1.2" stroke-linecap="round" stroke-linejoin="round"/>
<ellipse cx="41" cy="82" rx="13" ry="3.4" fill="#a85848"/>
<polyline points="28,82 41,84 55,80" fill="none" stroke="#7a3a2c" stroke-width="1" stroke-linecap="round" stroke-linejoin="round"/>
<polyline points="22,111 44,106 60,98 72,90" fill="none" stroke="#24140e" stroke-width="5" stroke-linecap="butt" stroke-linejoin="round"/>
<ellipse cx="46" cy="106" rx="3" ry="3" fill="#2a6a5a"/>
<polyline points="60,146 100,137 132,132" fill="none" stroke="#3a2018" stroke-width="1.6" stroke-linecap="round" stroke-linejoin="round"/>
<polyline points="105,143 122,134 130,142" fill="none" stroke="#3a2018" stroke-width="1.2" stroke-linecap="round" stroke-linejoin="round"/>
<ellipse cx="36" cy="67" rx="3" ry="1.6" fill="#6a3420"/>
<ellipse cx="46" cy="66" rx="3" ry="1.6" fill="#6a3420"/>
<ellipse cx="176" cy="46" rx="11" ry="6" fill="#a86a44" opacity="0.45"/>
<ellipse cx="174" cy="45" rx="6" ry="2.2" fill="#2a1810"/>
<ellipse cx="209" cy="34" rx="5.5" ry="2" fill="#2a1810"/>
<polyline points="160,39 172,34.5 185,37.5" fill="none" stroke="#3a2418" stroke-width="1.8" stroke-linecap="round" stroke-linejoin="round"/>
<polyline points="197,28 210,23.5 221,25.5" fill="none" stroke="#3a2418" stroke-width="1.8" stroke-linecap="round" stroke-linejoin="round"/>
<polyline points="141,56 170,52 196,46 208,36 224,30" fill="none" stroke="#7a4a38" stroke-width="1" stroke-linecap="round" stroke-linejoin="round"/>
<ellipse cx="203" cy="80" rx="12" ry="3" fill="#8a4434"/>
<polyline points="194,80 204,77 218,72" fill="none" stroke="#e8d8d0" stroke-width="1.6" stroke-linecap="round" stroke-linejoin="round"/>
<ellipse cx="151" cy="96" rx="3.5" ry="4.5" fill="#d8d8b0"/>
<ellipse cx="152" cy="107" rx="3.5" ry="4.5" fill="#1f7a3a"/>
<rect x="143" y="135" width="17" height="9" fill="#d8c838"/>
<rect x="160" y="135" width="18" height="9" fill="#7a2a20"/>
<rect x="178" y="135" width="9" height="9" fill="#d0c040"/>
<rect x="187" y="135" width="14" height="9" fill="#2a8ac0"/>
<rect x="201" y="135" width="10" height="9" fill="#c8302c"/>
<polyline points="230,40 240,62 252,80" fill="none" stroke="#1a1616" stroke-width="3" stroke-linecap="round" stroke-linejoin="round"/>
<polyline points="226,70 232,90" fill="none" stroke="#1a1616" stroke-width="2" stroke-linecap="round" stroke-linejoin="round"/>
<ellipse cx="295" cy="40" rx="6" ry="2.3" fill="#2a1810"/>
<ellipse cx="333" cy="40" rx="6" ry="2.3" fill="#2a1810"/>
<polyline points="283,33 295,30 306,33" fill="none" stroke="#4a2c20" stroke-width="1.4" stroke-linecap="round" stroke-linejoin="round"/>
<polyline points="322,33 333,30 345,33" fill="none" stroke="#4a2c20" stroke-width="1.4" stroke-linecap="round" stroke-linejoin="round"/>
<polygon points="296,72 306,74 315,75 324,74 334,72 330,79 315,82 300,79" fill="#a04a40"/>
<polygon points="299,73 315,76 331,73 328,77.5 315,79 302,77.5" fill="#f4ece4"/>
<polyline points="305,63 315,66 325,63" fill="none" stroke="#9a5c40" stroke-width="1.4" stroke-linecap="round" stroke-linejoin="round"/>
<ellipse cx="275" cy="76" rx="2.5" ry="3.5" fill="#1a1a24"/>
<ellipse cx="356" cy="73" rx="2.5" ry="3.5" fill="#1a1a24"/>
<polyline points="262,113 265,128 269,146" fill="none" stroke="#f0ecec" stroke-width="5.5" stroke-linecap="butt" stroke-linejoin="round"/>
<polyline points="262,113 265,128 269,146" fill="none" stroke="#2a1a1c" stroke-width="2.4" stroke-linecap="butt" stroke-linejoin="round" opacity="0.55"/>
<polyline points="357,113 362,128 366,146" fill="none" stroke="#f0ecec" stroke-width="5.5" stroke-linecap="butt" stroke-linejoin="round"/>
<polyline points="357,113 362,128 366,146" fill="none" stroke="#2a1a1c" stroke-width="2.4" stroke-linecap="butt" stroke-linejoin="round" opacity="0.55"/>
<ellipse cx="400" cy="46" rx="6" ry="2.4" fill="#2a1810"/>
<ellipse cx="433" cy="40" rx="6.5" ry="2.5" fill="#2a1810"/>
<polyline points="390,38 400,36 410,39" fill="none" stroke="#5a3820" stroke-width="1.4" stroke-linecap="round" stroke-linejoin="round"/>
<polyline points="420,30 434,28 446,32" fill="none" stroke="#5a3820" stroke-width="1.4" stroke-linecap="round" stroke-linejoin="round"/>
<polyline points="404,82 418,84 430,80 440,76" fill="none" stroke="#a0503c" stroke-width="2" stroke-linecap="round" stroke-linejoin="round"/>
<ellipse cx="420" cy="86" rx="12" ry="3" fill="#c87860" opacity="0.8"/>
<ellipse cx="405" cy="70" rx="4" ry="2" fill="#a86c48"/>
<ellipse cx="487" cy="61" rx="2.6" ry="2.6" fill="#f4f0e8"/>
<polyline points="452,128 480,108 500,92" fill="none" stroke="#e8c8a0" stroke-width="1" stroke-linecap="round" stroke-linejoin="round"/>
<ellipse cx="553" cy="55" rx="5.5" ry="2.2" fill="#3a3030"/>
<ellipse cx="596" cy="48" rx="5.5" ry="2.2" fill="#3a3030"/>
<polyline points="543,49 553,46 562,49" fill="none" stroke="#7a4a34" stroke-width="1.3" stroke-linecap="round" stroke-linejoin="round"/>
<polyline points="585,41 596,38 606,42" fill="none" stroke="#7a4a34" stroke-width="1.3" stroke-linecap="round" stroke-linejoin="round"/>
<polygon points="559,91 570,93 582,93 592,89 600,85 598,95 590,103 580,107 570,104 563,98" fill="#b84a44"/>
<polygon points="563,93 580,97 598,88 596,94 581,102 567,98" fill="#f8f4ee"/>
<ellipse cx="533" cy="84" rx="3" ry="3.4" fill="#d8d8d0"/>
<ellipse cx="624" cy="72" rx="3" ry="3.4" fill="#d8d8d0"/>
<polyline points="572,78 579,82 587,77" fill="none" stroke="#c08868" stroke-width="1.4" stroke-linecap="round" stroke-linejoin="round"/>
<ellipse cx="710" cy="49" rx="6.5" ry="2.4" fill="#1a100c"/>
<ellipse cx="747" cy="52" rx="6" ry="2.4" fill="#1a100c"/>
<polyline points="696,38 710,40 722,45" fill="none" stroke="#2a1810" stroke-width="2" stroke-linecap="round" stroke-linejoin="round"/>
<polyline points="736,46 748,42 758,43" fill="none" stroke="#2a1810" stroke-width="2" stroke-linecap="round" stroke-linejoin="round"/>
<polyline points="708,92 720,95 734,93" fill="none" stroke="#4a281c" stroke-width="2" stroke-linecap="round" stroke-linejoin="round"/>
<ellipse cx="700" cy="118" rx="2.2" ry="2.2" fill="#7a7c90"/>
<ellipse cx="716" cy="128" rx="2.2" ry="2.2" fill="#7a7c90"/>
<ellipse cx="735" cy="124" rx="2.2" ry="2.2" fill="#7a7c90"/>
<ellipse cx="752" cy="136" rx="2.2" ry="2.2" fill="#7a7c90"/>
<ellipse cx="725" cy="142" rx="2.2" ry="2.2" fill="#7a7c90"/>
<ellipse cx="696" cy="138" rx="2.2" ry="2.2" fill="#7a7c90"/>
<ellipse cx="768" cy="146" rx="2.2" ry="2.2" fill="#7a7c90"/>
<ellipse cx="745" cy="148" rx="2.2" ry="2.2" fill="#7a7c90"/>
<ellipse cx="804" cy="50" rx="6" ry="2.2" fill="#5a4a40"/>
<ellipse cx="851" cy="35" rx="6" ry="2.2" fill="#5a4a40"/>
<polyline points="792,42 804,40 816,44" fill="none" stroke="#9a6a50" stroke-width="1.2" stroke-linecap="round" stroke-linejoin="round"/>
<polyline points="838,28 851,26 863,30" fill="none" stroke="#9a6a50" stroke-width="1.2" stroke-linecap="round" stroke-linejoin="round"/>
<polygon points="810,90 822,87 836,85 853,81 850,89 836,96 822,98 813,96" fill="#b05a50"/>
<polygon points="813,91 830,88 851,83 848,87.5 832,93 816,95" fill="#f4ece2"/>
<polyline points="818,70 828,73 840,68" fill="none" stroke="#b07858" stroke-width="1.4" stroke-linecap="round" stroke-linejoin="round"/>
<ellipse cx="931" cy="53" rx="7" ry="2.8" fill="#140a06"/>
<ellipse cx="977" cy="51" rx="6.5" ry="2.8" fill="#140a06"/>
<ellipse cx="932" cy="53" rx="2" ry="1.5" fill="#e8e0d8" opacity="0.7"/>
<ellipse cx="977" cy="51" rx="2" ry="1.5" fill="#e8e0d8" opacity="0.7"/>
<polyline points="918,44 931,41 944,45" fill="none" stroke="#2a140c" stroke-width="2" stroke-linecap="round" stroke-linejoin="round"/>
<polyline points="964,43 977,40 990,43" fill="none" stroke="#2a140c" stroke-width="2" stroke-linecap="round" stroke-linejoin="round"/>
<polygon points="927,91 940,94 952,95 964,93 976,88 972,100 962,107 950,109 938,106 931,99" fill="#5a2a1c"/>
<polygon points="931,93 950,98 972,91 968,99 950,104 935,100" fill="#f4eadc"/>
<polyline points="942,82 954,85 967,81" fill="none" stroke="#4a2614" stroke-width="1.6" stroke-linecap="round" stroke-linejoin="round"/>
</g>
</g></svg>

</body></html>
